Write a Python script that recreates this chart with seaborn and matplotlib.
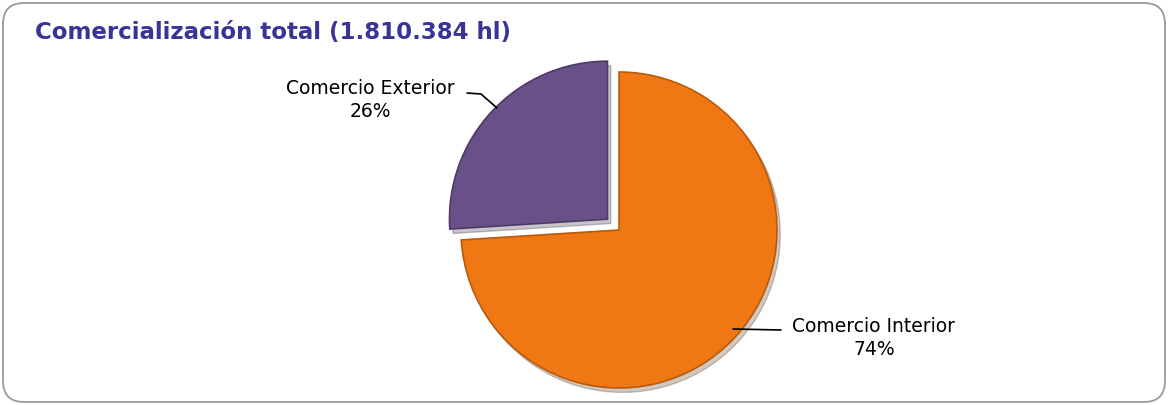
import matplotlib
matplotlib.use("Agg")
import matplotlib.pyplot as plt
from matplotlib.patches import FancyBboxPatch
import seaborn as sns

categories = ["Comercio Interior", "Comercio Exterior"]
shares = [74, 26]
colors = ["#F07814", "#6A5088"]
title = "Comercialización total (1.810.384 hl)"

sns.set_theme(style="white")
plt.rcParams["font.family"] = ["DejaVu Sans"]

W, H = 1168, 405
fig = plt.figure(figsize=(W / 100, H / 100), dpi=100)
fig.patch.set_facecolor("white")

# rounded frame
frame = FancyBboxPatch((3 / W, 3 / H), 1 - 6 / W, 1 - 6 / H,
                       boxstyle="round,pad=0,rounding_size=0.018",
                       transform=fig.transFigure, facecolor="none",
                       edgecolor="#9a9a9a", linewidth=1.3, mutation_aspect=W / H,
                       zorder=5)
fig.patches.append(frame)

# axes in pixel-like units: radius 1 = R px, pie centre at (cx, cy)
R = 158.0
cx, cy = 619, 230
ax = fig.add_axes([0, 0, 1, 1])
ax.patch.set_alpha(0)

wedges, _ = ax.pie(shares, colors=colors, startangle=90, counterclock=False,
                   explode=[0.0, 0.1], radius=1.0,
                   wedgeprops=dict(edgecolor="none"),
                   shadow=dict(ox=0.015, oy=-0.02, alpha=0.25))
for w, ec in zip(wedges, ["#B85A0C", "#4E3A66"]):
    w.set_edgecolor(ec)
    w.set_linewidth(1.2)

ax.set_xlim(-cx / R, (W - cx) / R)
ax.set_ylim(-(H - cy) / R, cy / R)
ax.set_aspect("equal")
ax.axis("off")


def px(x, y):
    return (x - cx) / R, (cy - y) / R


# labels
for (name, val), (tx, ty) in zip(zip(categories, shares), [(874, 338), (370, 100)]):
    ax.text(*px(tx, ty), f"{name}\n{val}%", ha="center", va="center",
            fontsize=13.5, color="black", linespacing=1.25)

# leader lines
xs, ys = zip(px(733, 329), px(781, 330))
ax.plot(xs, ys, color="black", lw=1.2)
xs, ys = zip(px(467, 93), px(481, 94), px(497, 108))
ax.plot(xs, ys, color="black", lw=1.2)

fig.text(35 / W, 1 - 33 / H, title, ha="left", va="center",
         fontsize=16.5, fontweight="bold", color="#3A3497")

fig.savefig("out.png", dpi=100)
